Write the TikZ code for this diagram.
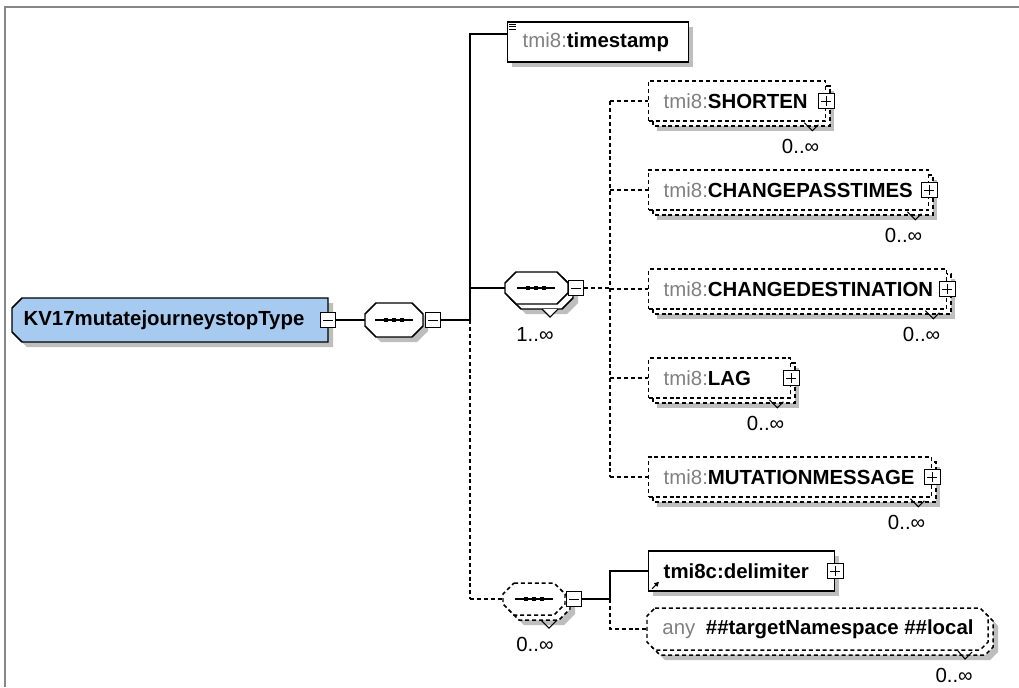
\documentclass[tikz,border=0pt]{standalone}
\usepackage{fontspec}
\setmainfont{Liberation Sans}
\usetikzlibrary{arrows.meta}

\definecolor{rootblue}{RGB}{166,202,240}
\definecolor{pfx}{RGB}{128,128,128}
\definecolor{shadowgray}{RGB}{190,190,190}

\newcommand{\tminame}[1]{\textcolor{pfx}{tmi8:}\textbf{#1}}
% octagon: [options]{x1}{y1}{x2}{y2}{cut}
\newcommand{\octo}[6][]{\draw[#1] (#2+#6,#3) -- (#4-#6,#3) -- (#4,#3+#6) -- (#4,#5-#6) -- (#4-#6,#5) -- (#2+#6,#5) -- (#2,#5-#6) -- (#2,#3+#6) -- cycle;}
\newcommand{\seqdots}[2]{\draw[line width=.8pt] (#1-19,#2) -- (#1+19,#2);
  \foreach \d in {-8,0,8} \fill (#1+\d-2.3,#2-2.3) rectangle (#1+\d+2.3,#2+2.3);}

\tikzset{
  conn/.style={line width=1.1pt},
  opt/.style={line width=1.1pt, dash pattern=on 3pt off 2.2pt},
  elem/.style={draw, fill=white, line width=1.1pt, anchor=west, align=left,
    inner xsep=11.25pt, inner ysep=0pt, minimum height=30pt, text width=#1},
  multielem/.style={elem=#1, opt},
  pmbox/.style={draw, fill=white, line width=.8pt, minimum size=11.5pt, inner sep=0pt},
  minusbox/.style={pmbox, path picture={
    \draw[line width=.7pt] ([xshift=2pt]path picture bounding box.west) -- ([xshift=-2pt]path picture bounding box.east);}},
  plusbox/.style={pmbox, path picture={
    \draw[line width=.7pt] ([xshift=2pt]path picture bounding box.west) -- ([xshift=-2pt]path picture bounding box.east);
    \draw[line width=.7pt] ([yshift=-2pt]path picture bounding box.north) -- ([yshift=2pt]path picture bounding box.south);}},
  card/.style={inner sep=0pt, anchor=north east},
  notch/.style={line width=.8pt},
}

\begin{document}
\begin{tikzpicture}[x=0.75pt, y=-0.75pt, font=\fontsize{15.3}{18}\selectfont]
\useasboundingbox (0,0) rectangle (1019,687);

% frame
\draw[line width=1.5pt, black!47] (5,687) -- (5,7) -- (1019,7);

% root element
\fill[shadowgray, shift={(5,5)}] (22,298) -- (328,298) -- (328,342) -- (22,342) -- (12,332) -- (12,308) -- cycle;
\draw[conn, fill=rootblue] (22,298) -- (328,298) -- (328,342) -- (22,342) -- (12,332) -- (12,308) -- cycle;
\node (root) at (164,320) {\textbf{KV17mutatejourneystopType}};
\node[minusbox] (rootMinus) at (328,320) {};

% main sequence
\octo[draw=none, fill=shadowgray, shift={(5,5)}]{365}{303}{423}{337}{11}
\octo[conn, fill=white]{365}{303}{423}{337}{11}
\seqdots{394}{320}
\coordinate (seqAIn) at (365,320);
\node[minusbox] (seqAMinus) at (433,320) {};
\draw[conn] (rootMinus) -- (seqAIn);

\coordinate (busA) at (470,320);
\coordinate (busTop) at (470,34);
\coordinate (busB) at (470,288);
\coordinate (busC) at (470,599);
\draw[conn] (seqAMinus) -- (busA);

% timestamp
\fill[shadowgray] (512,27) rectangle (693,67);
\node[elem=113.25pt] (tstamp) at (507,42) {\tminame{timestamp}};
\foreach \i in {0,2.5,5}
  \draw[line width=.6pt] ([shift={(2,3+\i)}]tstamp.north west) -- ++(7,0);
\draw[conn] (busA) -- (busTop) -- (busTop -| tstamp.west);

% sequence 1..oo
\octo[draw=none, fill=shadowgray, shift={(10,10)}]{505}{272}{568}{304}{11}
\octo[conn, fill=white, shift={(5,5)}]{505}{272}{568}{304}{11}
\draw[notch, fill=white] (542,309) -- (550,317) -- (558,309);
\octo[conn, fill=white]{505}{272}{568}{304}{11}
\seqdots{536}{288}
\coordinate (seqBIn) at (505,288);
\node[minusbox] (seqBMinus) at (576,288) {};
\node[inner sep=0pt] (seqBCard) at (535,334) {1..∞};
\draw[conn] (busB) -- (seqBIn);

% sequence 0..oo
\draw[opt] (busA) -- (busC);
\octo[draw=none, fill=shadowgray, shift={(10,10)}]{503}{583}{565}{615}{11}
\octo[opt, fill=white, shift={(5,5)}]{503}{583}{565}{615}{11}
\draw[notch] (541,620) -- (549,628) -- (557,620);
\octo[opt, fill=white]{503}{583}{565}{615}{11}
\seqdots{534}{599}
\coordinate (seqCIn) at (503,599);
\node[minusbox] (seqCMinus) at (574,599) {};
\node[inner sep=0pt] (seqCCard) at (535,644) {0..∞};
\draw[opt] (busC) -- (seqCIn);

% choice children: shadow and stacked copy first
\foreach \y/\w in {101/177,190/280,289/298,378/142,477/283} {
  \fill[shadowgray] (657,\y-10) rectangle (657+\w,\y+30);
  \draw[opt, fill=white] (653,\y-15) rectangle (653+\w,\y+25);
}
\coordinate (kidBus) at (610,288);
\node[multielem=110.25pt] (shorten) at (648,101) {\tminame{SHORTEN}};
\node[multielem=187.5pt] (cpt) at (648,190) {\tminame{CHANGEPASSTIMES}};
\node[multielem=201pt] (cdest) at (648,289) {\tminame{CHANGEDESTINATION}};
\node[multielem=84pt] (lag) at (648,378) {\tminame{LAG}};
\node[multielem=189.75pt] (mutmsg) at (648,477) {\tminame{MUTATIONMESSAGE}};
\draw[opt] (seqBMinus) -- (kidBus);
\draw[opt] (shorten.west -| kidBus) -- (mutmsg.west -| kidBus);
\foreach \k in {shorten,cpt,cdest,lag,mutmsg} {
  \draw[opt] (\k.west -| kidBus) -- (\k.west);
  \node[plusbox] (\k Plus) at (\k.east) {};
  \draw[notch] ([shift={(-22,1)}]\k.south east) -- ++(8,8) -- ++(6,-6);
  \node[card] (\k Card) at ([shift={(-7,17)}]\k.south east) {0..∞};
}

% delimiter and any
\coordinate (subBus) at (610,599);
\fill[shadowgray] (653,556) rectangle (839,596);
\node[elem=117pt] (delim) at (648,571) {\textbf{tmi8c:delimiter}};
\node[plusbox] (delimPlus) at (delim.east) {};
\draw[-{Triangle[length=3.5pt,width=3.5pt]}, line width=.8pt] ([shift={(4,-3)}]delim.south west) -- ++(7,-7);
\draw[conn] (seqCMinus) -- (subBus) -- (subBus |- delim.west) -- (delim.west);

\octo[draw=none, fill=shadowgray, shift={(10,10)}]{647}{608}{988}{650}{8}
\octo[opt, fill=white, shift={(5,5)}]{647}{608}{988}{650}{8}
\draw[notch] (958,651) -- (965,659) -- (972,652);
\octo[opt, fill=white]{647}{608}{988}{650}{8}
\coordinate (anyIn) at (647,629);
\node (anyel) at (818,629) {\textcolor{pfx}{any}\hspace{8pt}\textbf{\#\#targetNamespace \#\#local}};
\node[card] (anyCard) at (973,668) {0..∞};
\draw[opt] (subBus) -- (subBus |- anyIn) -- (anyIn);
\end{tikzpicture}
\end{document}
